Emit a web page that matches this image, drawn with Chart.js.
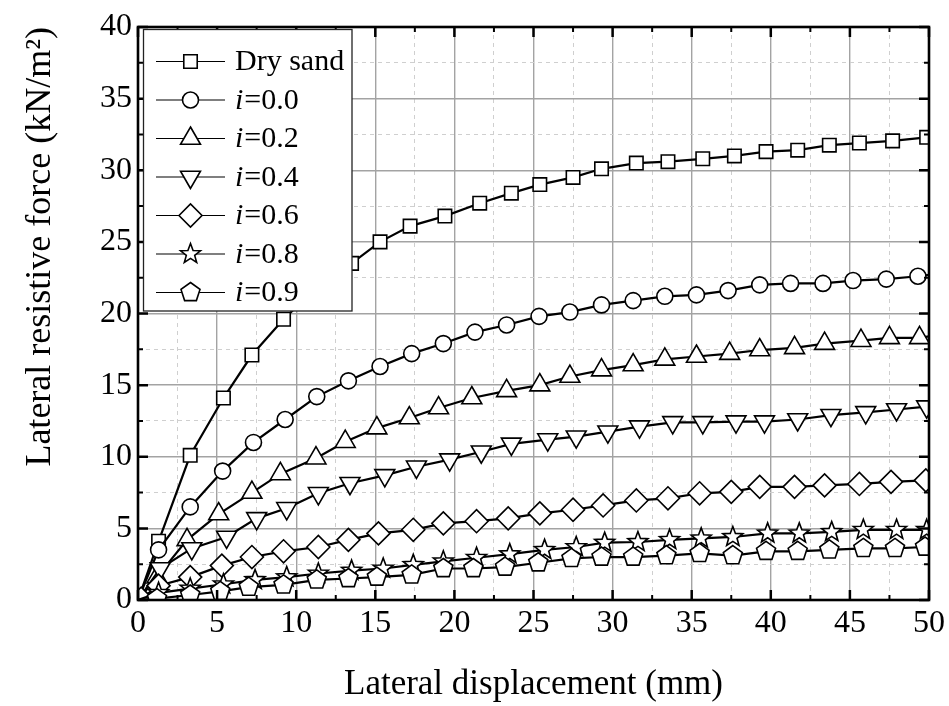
<!DOCTYPE html>
<html>
<head>
<meta charset="utf-8">
<script src="https://cdn.jsdelivr.net/npm/chart.js"></script>
<style>
  html, body { margin: 0; padding: 0; background: #fff; }
  #Chart1 { display: block; }
</style>
</head>
<body>
<canvas id="Chart1" width="949" height="706"></canvas>
<script>
// marker positions (mm) and resistive force (kN/m2) for each test
const dry_x = [1.3, 3.3, 5.4, 7.2, 9.2, 11.3, 13.5, 15.3, 17.2, 19.4, 21.6, 23.6, 25.4, 27.5, 29.3, 31.5, 33.5, 35.7, 37.7, 39.7, 41.7, 43.7, 45.6, 47.7, 49.85];
const dry_y = [4.1, 10.1, 14.1, 17.1, 19.6, 21.8, 23.5, 25.0, 26.1, 26.8, 27.7, 28.4, 29.0, 29.5, 30.1, 30.5, 30.6, 30.8, 31.0, 31.3, 31.4, 31.75, 31.9, 32.05, 32.3];

const i00_x = [1.3, 3.3, 5.35, 7.3, 9.3, 11.3, 13.3, 15.3, 17.3, 19.3, 21.3, 23.3, 25.35, 27.3, 29.3, 31.3, 33.3, 35.3, 37.3, 39.3, 41.25, 43.3, 45.2, 47.3, 49.3, 50];
const i00_y = [3.5, 6.5, 9.0, 11.0, 12.6, 14.2, 15.3, 16.3, 17.2, 17.9, 18.7, 19.2, 19.8, 20.1, 20.6, 20.9, 21.2, 21.3, 21.6, 22.0, 22.1, 22.1, 22.3, 22.4, 22.6, 22.7];

const i02_x = [1.2, 3.1, 5.1, 7.2, 9.0, 11.25, 13.1, 15.1, 17.15, 19.0, 21.1, 23.3, 25.4, 27.3, 29.3, 31.3, 33.3, 35.3, 37.4, 39.3, 41.5, 43.4, 45.7, 47.5, 49.4, 50];
const i02_y = [1.6, 4.2, 6.0, 7.5, 8.8, 9.9, 11.05, 12.0, 12.7, 13.4, 14.1, 14.6, 15.0, 15.6, 16.05, 16.4, 16.8, 17.0, 17.2, 17.45, 17.6, 17.9, 18.1, 18.3, 18.3, 18.4];

const i04_x = [1.4, 3.4, 5.6, 7.5, 9.4, 11.4, 13.4, 15.6, 17.6, 19.7, 21.7, 23.6, 25.9, 27.7, 29.7, 31.7, 33.8, 35.7, 37.8, 39.6, 41.7, 43.8, 46.0, 47.95, 49.85];
const i04_y = [2.2, 3.6, 4.4, 5.7, 6.4, 7.45, 8.15, 8.7, 9.3, 9.8, 10.35, 10.9, 11.2, 11.4, 11.75, 12.1, 12.4, 12.4, 12.45, 12.45, 12.6, 12.9, 13.1, 13.3, 13.5];

const i06_x = [0.2, 1.3, 3.3, 5.3, 7.2, 9.2, 11.4, 13.3, 15.2, 17.4, 19.3, 21.4, 23.4, 25.4, 27.5, 29.4, 31.5, 33.5, 35.5, 37.5, 39.3, 41.5, 43.4, 45.6, 47.6, 49.8];
const i06_y = [0.1, 1.0, 1.6, 2.4, 3.0, 3.4, 3.7, 4.2, 4.65, 4.9, 5.35, 5.5, 5.7, 6.05, 6.3, 6.6, 6.95, 7.1, 7.45, 7.55, 7.9, 7.9, 8.0, 8.1, 8.25, 8.35];

const i08_x = [1.3, 3.3, 5.4, 7.4, 9.4, 11.4, 13.5, 15.5, 17.4, 19.3, 21.4, 23.5, 25.7, 27.7, 29.5, 31.6, 33.6, 35.6, 37.6, 39.8, 41.8, 43.85, 45.85, 47.95, 49.85];
const i08_y = [0.5, 0.8, 1.1, 1.4, 1.6, 1.85, 2.05, 2.2, 2.45, 2.7, 2.95, 3.2, 3.5, 3.7, 4.0, 4.05, 4.2, 4.3, 4.4, 4.65, 4.65, 4.75, 4.9, 4.9, 4.9];

const i09_x = [1.2, 3.3, 5.2, 7.0, 9.2, 11.3, 13.3, 15.1, 17.3, 19.3, 21.2, 23.2, 25.3, 27.4, 29.3, 31.3, 33.4, 35.5, 37.6, 39.7, 41.7, 43.7, 45.85, 47.85, 49.75];
const i09_y = [0.1, 0.35, 0.6, 0.9, 1.05, 1.4, 1.5, 1.6, 1.75, 2.2, 2.2, 2.3, 2.6, 2.9, 3.0, 3.0, 3.1, 3.25, 3.1, 3.4, 3.4, 3.5, 3.6, 3.6, 3.7];

const series_names = ['Dry sand', 'i=0.0', 'i=0.2', 'i=0.4', 'i=0.6', 'i=0.8', 'i=0.9'];

const serif = "'Liberation Serif', 'Times New Roman', serif";

// star / pentagon outline, chart.js has no built-in style for them
function polygon_path(ctx, x, y, n, r_out, r_in) {
    let steps = r_in ? n * 2 : n;
    ctx.beginPath();
    for (let k = 0; k < steps; k++) {
        let r = (r_in && k % 2 == 1) ? r_in : r_out;
        let a = -Math.PI / 2 + k * 2 * Math.PI / steps;
        if (k == 0) ctx.moveTo(x + r * Math.cos(a), y + r * Math.sin(a));
        else ctx.lineTo(x + r * Math.cos(a), y + r * Math.sin(a));
    }
    ctx.closePath();
}

function draw_custom(ctx, style, x, y) {
    if (style.shape == 'star') polygon_path(ctx, x, y, 5, 10.5, 4.4);
    else polygon_path(ctx, x, y, 5, 10, 0);
    ctx.fillStyle = '#fff';
    ctx.fill();
    ctx.lineWidth = 1.6;
    ctx.strokeStyle = '#000';
    ctx.stroke();
}

const marker_styles = [
    {pointStyle: 'rect', radius: 9.5, rotation: 0},
    {pointStyle: 'circle', radius: 8, rotation: 0},
    {pointStyle: 'triangle', radius: 11.5, rotation: 0},
    {pointStyle: 'triangle', radius: 11.5, rotation: 180},
    {pointStyle: 'rectRot', radius: 11.5, rotation: 0},
    {shape: 'star', radius: 10.5},
    {shape: 'pentagon', radius: 10},
];

function build_dataset(xs, ys, id) {
    // every curve starts from the origin; the last point at 50 mm only carries the line
    let style = marker_styles[id];
    let data = [{x: 0, y: 0}];
    let marked = [false];
    for (let k = 0; k < xs.length; k++) {
        data.push({x: xs[k], y: ys[k]});
        marked.push(xs[k] < 50);
    }
    let radius = marked.map((m) => (m && !style.shape) ? style.radius : 0);
    return {
        label: series_names[id],
        data: data,
        marked: marked,
        borderColor: '#000',
        borderWidth: 2.2,
        backgroundColor: '#fff',
        pointBorderColor: '#000',
        pointBackgroundColor: '#fff',
        pointBorderWidth: 1.6,
        pointRadius: radius,
        pointHoverRadius: radius,
        pointStyle: style.pointStyle || 'circle',
        pointRotation: style.rotation || 0,
        tension: 0,
        clip: 0,
        order: 6 - id,
    };
}

const is_major = (v) => Math.abs(v % 5) < 1e-6;

// stars and pentagons go on right after their own line
const custom_marker_plugin = {
    id: 'custommarkers',
    afterDatasetDraw(chart, args) {
        let style = marker_styles[args.index];
        if (!style.shape) return;
        let ds = chart.data.datasets[args.index];
        let a = chart.chartArea;
        let ctx = chart.ctx;
        ctx.save();
        ctx.beginPath();
        ctx.rect(a.left, a.top, a.right - a.left, a.bottom - a.top);
        ctx.clip();
        args.meta.data.forEach((el, k) => {
            if (ds.marked[k]) draw_custom(ctx, style, el.x, el.y);
        });
        ctx.restore();
    }
};

// inward tick marks on all four sides plus the plot frame
const frame_plugin = {
    id: 'frame',
    afterDatasetsDraw(chart) {
        let ctx = chart.ctx;
        let a = chart.chartArea;
        let sx = chart.scales.x;
        let sy = chart.scales.y;
        ctx.save();
        ctx.strokeStyle = '#000';
        ctx.lineCap = 'butt';
        sx.ticks.forEach((t) => {
            let px = sx.getPixelForValue(t.value);
            let len = is_major(t.value) ? 10 : 5;
            ctx.lineWidth = is_major(t.value) ? 2.5 : 2;
            ctx.beginPath();
            ctx.moveTo(px, a.bottom); ctx.lineTo(px, a.bottom - len);
            ctx.moveTo(px, a.top); ctx.lineTo(px, a.top + len);
            ctx.stroke();
        });
        sy.ticks.forEach((t) => {
            let py = sy.getPixelForValue(t.value);
            let len = is_major(t.value) ? 10 : 5;
            ctx.lineWidth = is_major(t.value) ? 2.5 : 2;
            ctx.beginPath();
            ctx.moveTo(a.left, py); ctx.lineTo(a.left + len, py);
            ctx.moveTo(a.right, py); ctx.lineTo(a.right - len, py);
            ctx.stroke();
        });
        ctx.lineWidth = 2.6;
        ctx.strokeRect(a.left, a.top, a.right - a.left, a.bottom - a.top);
        ctx.restore();
    }
};

// boxed legend: line through the marker, italic i in the labels
const legend_plugin = {
    id: 'boxlegend',
    afterDraw(chart) {
        let ctx = chart.ctx;
        let box = {x: 143.5, y: 29.5, w: 208.5, h: 281.5};
        ctx.save();
        ctx.fillStyle = '#fff';
        ctx.fillRect(box.x, box.y, box.w, box.h);
        ctx.lineWidth = 1.3;
        ctx.strokeStyle = '#222';
        ctx.strokeRect(box.x, box.y, box.w, box.h);
        for (let k = 0; k < series_names.length; k++) {
            let cy = 61.5 + k * 38.5;
            let style = marker_styles[k];
            ctx.strokeStyle = '#000';
            ctx.lineWidth = 1.2;
            ctx.beginPath();
            ctx.moveTo(156, cy);
            ctx.lineTo(225, cy);
            ctx.stroke();
            if (style.shape) {
                draw_custom(ctx, style, 190.5, cy);
            } else {
                ctx.fillStyle = '#fff';
                ctx.lineWidth = 1.6;
                Chart.helpers.drawPoint(ctx, {
                    pointStyle: style.pointStyle,
                    radius: style.radius,
                    rotation: style.rotation,
                    borderWidth: 1.6
                }, 190.5, cy);
            }
            ctx.fillStyle = '#000';
            ctx.textBaseline = 'middle';
            ctx.textAlign = 'left';
            let name = series_names[k];
            let tx = 235;
            if (name.startsWith('i')) {
                ctx.font = 'italic 30px ' + serif;
                ctx.fillText('i', tx, cy + 1);
                tx += ctx.measureText('i').width + 1;
                name = name.slice(1);
            }
            ctx.font = '30px ' + serif;
            ctx.fillText(name, tx, cy + 1);
        }
        ctx.restore();
    }
};

function axis_grid() {
    return {
        drawTicks: false,
        color: (c) => (c.tick && is_major(c.tick.value)) ? '#a3a3a3' : '#cfcfcf',
        lineWidth: (c) => (c.tick && is_major(c.tick.value)) ? 1.4 : 1,
    };
}

function axis_border() {
    return {
        display: false,
        dash: (c) => (c.tick && !is_major(c.tick.value)) ? [4, 4] : [],
    };
}

const datasets = [
    build_dataset(dry_x, dry_y, 0),
    build_dataset(i00_x, i00_y, 1),
    build_dataset(i02_x, i02_y, 2),
    build_dataset(i04_x, i04_y, 3),
    build_dataset(i06_x, i06_y, 4),
    build_dataset(i08_x, i08_y, 5),
    build_dataset(i09_x, i09_y, 6),
];

const config = {
    type: 'line',
    data: {datasets: datasets},
    options: {
        responsive: false,
        animation: false,
        events: [],
        layout: {padding: {top: 27, right: 20, left: 0, bottom: 0}},
        plugins: {
            legend: {display: false},
            tooltip: {enabled: false},
        },
        scales: {
            x: {
                type: 'linear',
                min: 0,
                max: 50,
                ticks: {
                    stepSize: 2.5,
                    autoSkip: false,
                    maxRotation: 0,
                    padding: 4,
                    color: '#000',
                    font: {family: serif, size: 32},
                    callback: (v) => is_major(v) ? v : '',
                },
                grid: axis_grid(),
                border: axis_border(),
                title: {
                    display: true,
                    text: 'Lateral displacement (mm)',
                    color: '#000',
                    font: {family: serif, size: 35},
                    padding: {top: 0, bottom: 0},
                },
                afterFit: (s) => { s.height = 106; },
            },
            y: {
                type: 'linear',
                min: 0,
                max: 40,
                ticks: {
                    stepSize: 2.5,
                    autoSkip: false,
                    padding: 6,
                    color: '#000',
                    font: {family: serif, size: 32},
                    callback: (v) => is_major(v) ? v : '',
                },
                grid: axis_grid(),
                border: axis_border(),
                title: {
                    display: true,
                    text: 'Lateral resistive force (kN/m\u00B2)',
                    align: 'end',
                    color: '#000',
                    font: {family: serif, size: 36},
                    padding: {top: 19, bottom: 0},
                },
                afterFit: (s) => { s.width = 138; },
            },
        },
    },
    plugins: [custom_marker_plugin, frame_plugin, legend_plugin],
};

new Chart(document.getElementById('Chart1'), config);
</script>
</body>
</html>
